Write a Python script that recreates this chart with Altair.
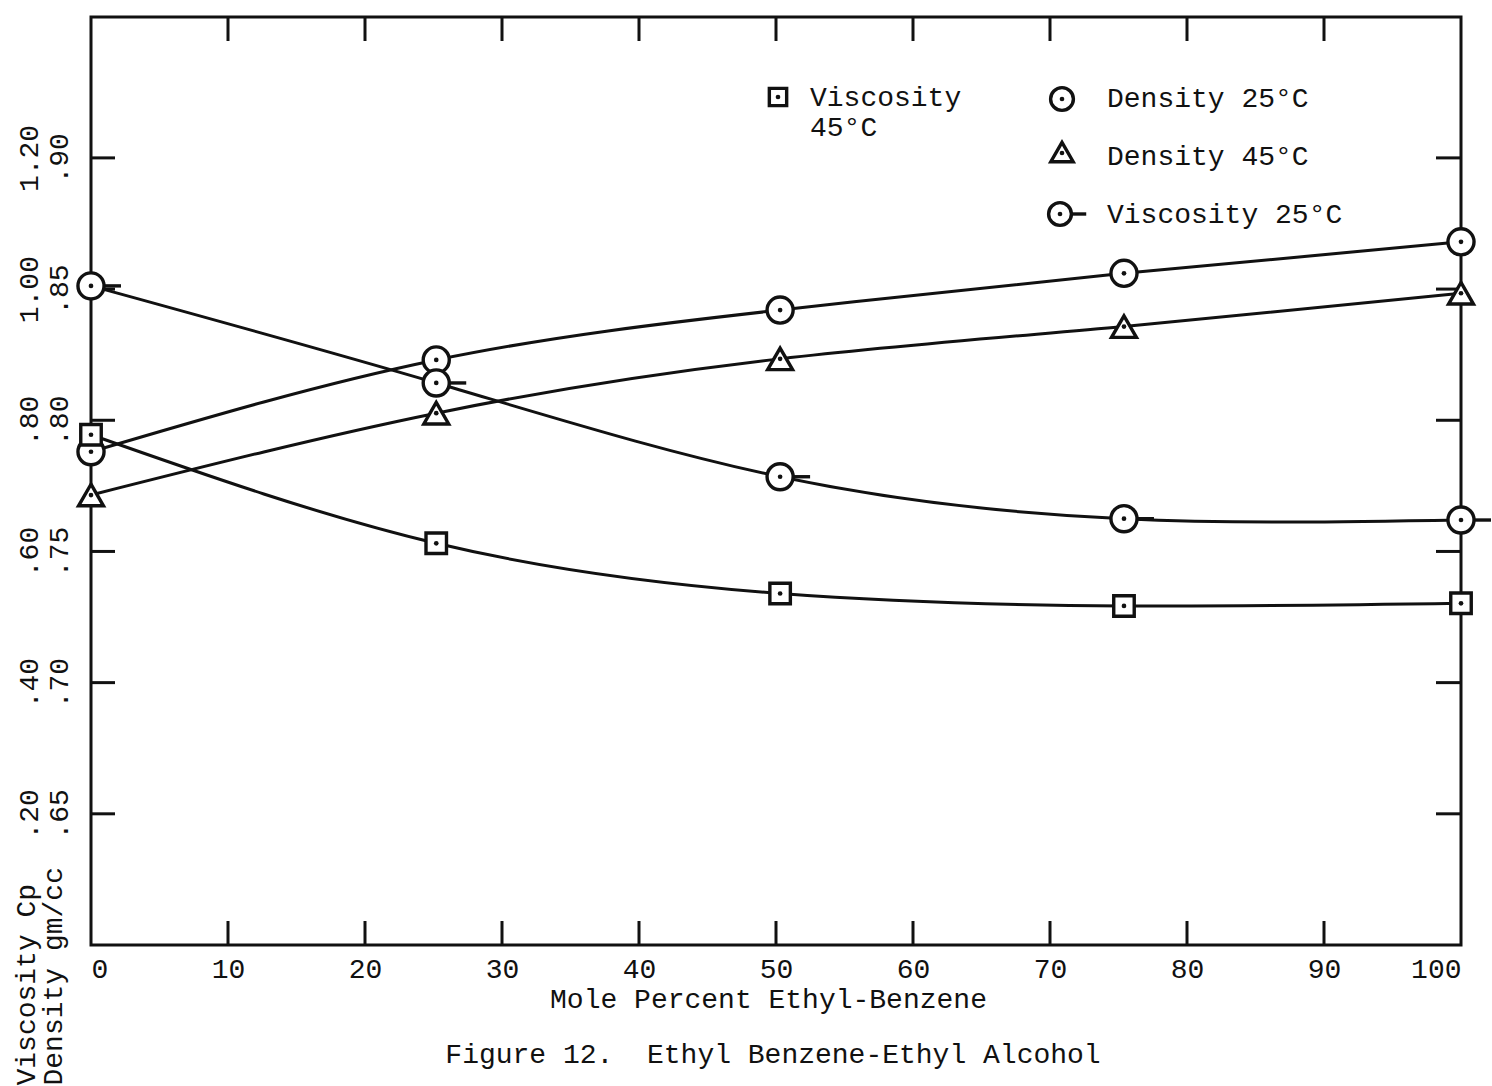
import altair as alt
import pandas as pd

# ---- data ----
mole_pct = [0, 25.2, 50.3, 75.4, 100]
density_25 = [0.788, 0.823, 0.842, 0.856, 0.868]
density_45 = [0.7715, 0.8027, 0.8234, 0.8357, 0.8484]
viscosity_25 = [1.005, 0.857, 0.714, 0.650, 0.648]
viscosity_45 = [0.778, 0.6125, 0.536, 0.517, 0.521]

x_ticks = [0, 10, 20, 30, 40, 50, 60, 70, 80, 90, 100]
x_inner_ticks = [10, 20, 30, 40, 50, 60, 70, 80, 90]
density_ticks = [0.65, 0.70, 0.75, 0.80, 0.85, 0.90]
viscosity_ticks = [0.20, 0.40, 0.60, 0.80, 1.00, 1.20]

FONT = "Liberation Mono"
FS = 28
W, H = 1370, 928
INK = "#111111"

df_d25 = pd.DataFrame({"x": mole_pct, "v": density_25})
df_d45 = pd.DataFrame({"x": mole_pct, "v": density_45})
df_v25 = pd.DataFrame({"x": mole_pct, "v": viscosity_25})
df_v45 = pd.DataFrame({"x": mole_pct, "v": viscosity_45})
df_xt = pd.DataFrame({"x": x_inner_ticks})
df_dt = pd.DataFrame({"v": density_ticks})
one = pd.DataFrame({"a": [0]})

x_enc = alt.X(
    "x:Q",
    scale=alt.Scale(domain=[0, 100], nice=False, zero=False),
    axis=alt.Axis(
        values=x_ticks, title="Mole Percent Ethyl-Benzene", grid=False, domain=False,
        ticks=False, tickSize=0, labelPadding=10, labelFlush=True,
        labelFont=FONT, labelFontSize=FS, labelColor=INK, labelBaseline="top",
        titleFont=FONT, titleFontSize=FS, titleFontWeight="normal", titleColor=INK,
        titleBaseline="alphabetic", titleY=62, titleX=677, titleAlign="center",
    ),
)

dens_scale = alt.Scale(domain=[0.60, 0.9537], nice=False, zero=False)
visc_scale = alt.Scale(domain=[0.0, 1.415], nice=False, zero=False)

dens_axis = alt.Axis(
    orient="left", values=density_ticks,
    labelExpr="replace(format(datum.value, '.2f'), '0.', '.')",
    grid=False, domain=False, ticks=False, tickSize=0, labelPadding=24,
    labelAngle=270, labelAlign="center", labelBaseline="alphabetic", labelFlush=False,
    labelFont=FONT, labelFontSize=FS, labelColor=INK,
    title="Density gm/cc", titleAngle=270, titleAlign="left", titleBaseline="alphabetic",
    titleX=-30, titleY=1068, titleFont=FONT, titleFontSize=FS, titleFontWeight="normal",
    titleColor=INK,
)
visc_axis = alt.Axis(
    orient="left", values=viscosity_ticks,
    labelExpr="datum.value >= 1 ? format(datum.value, '.2f') : replace(format(datum.value, '.2f'), '0.', '.')",
    grid=False, domain=False, ticks=False, tickSize=0, labelPadding=54,
    labelAngle=270, labelAlign="center", labelBaseline="alphabetic", labelFlush=False,
    labelFont=FONT, labelFontSize=FS, labelColor=INK,
    title="Viscosity Cp", titleAngle=270, titleAlign="left", titleBaseline="alphabetic",
    titleX=-57, titleY=1068, titleFont=FONT, titleFontSize=FS, titleFontWeight="normal",
    titleColor=INK,
)

def yd(field="v:Q"):
    return alt.Y(field, scale=dens_scale, axis=dens_axis)

def yv(field="v:Q"):
    return alt.Y(field, scale=visc_scale, axis=visc_axis)

LW = 3
MW = 3.4
CIRC = 680
DOT = 22
TAIL = "M 1 0 L 2.3 0"

def line(df, yfn):
    return alt.Chart(df).mark_line(interpolate="natural", color=INK, strokeWidth=LW).encode(x=x_enc, y=yfn())

def pts(df, yfn, shape, size):
    return alt.Chart(df).mark_point(shape=shape, size=size, filled=True, fill="white",
                                    stroke=INK, strokeWidth=MW, opacity=1).encode(x=x_enc, y=yfn())

def tail(df, yfn):
    return alt.Chart(df).mark_point(shape=TAIL, size=CIRC, filled=False, stroke=INK,
                                    strokeWidth=MW, opacity=1).encode(x=x_enc, y=yfn())

def dots(df, yfn):
    return alt.Chart(df).mark_point(shape="circle", size=DOT, filled=True, color=INK,
                                    opacity=1).encode(x=x_enc, y=yfn())

# inward ticks around the frame
top_ticks = alt.Chart(df_xt).mark_rule(color=INK, strokeWidth=3).encode(
    x=x_enc, y=alt.value(0), y2=alt.value(24))
bot_ticks = alt.Chart(df_xt).mark_rule(color=INK, strokeWidth=3).encode(
    x=x_enc, y=alt.value(H - 24), y2=alt.value(H))
left_ticks = alt.Chart(df_dt).mark_rule(color=INK, strokeWidth=3).encode(
    y=yd(), x=alt.value(0), x2=alt.value(24))
right_ticks = alt.Chart(df_dt).mark_rule(color=INK, strokeWidth=3).encode(
    y=yd(), x=alt.value(W - 25), x2=alt.value(W))

density_layer = alt.layer(
    top_ticks, bot_ticks, left_ticks, right_ticks,
    line(df_d25, yd), line(df_d45, yd),
    pts(df_d25, yd, "circle", CIRC), dots(df_d25, yd),
    pts(df_d45, yd, "triangle-up", 620), dots(df_d45, yd),
)

viscosity_layer = alt.layer(
    line(df_v25, yv), line(df_v45, yv),
    tail(df_v25, yv),
    pts(df_v25, yv, "circle", CIRC), dots(df_v25, yv),
    pts(df_v45, yv, "square", 420), dots(df_v45, yv),
)

# ---- in-plot key ----
def key_symbol(px, py, shape, size, filled=True):
    if filled:
        return alt.Chart(one).mark_point(shape=shape, size=size, filled=True, fill="white",
                                         stroke=INK, strokeWidth=MW, opacity=1).encode(
            x=alt.value(px), y=alt.value(py))
    return alt.Chart(one).mark_point(shape=shape, size=size, filled=False, stroke=INK,
                                     strokeWidth=MW, opacity=1).encode(
        x=alt.value(px), y=alt.value(py))

def key_dot(px, py):
    return alt.Chart(one).mark_point(shape="circle", size=DOT, filled=True, color=INK,
                                     opacity=1).encode(x=alt.value(px), y=alt.value(py))

def key_text(px, py, txt, align="left"):
    return alt.Chart(one).mark_text(align=align, baseline="middle", font=FONT, fontSize=FS,
                                    color=INK, text=txt).encode(x=alt.value(px), y=alt.value(py))

key = alt.layer(
    key_symbol(687, 80, "square", 300), key_dot(687, 80),
    key_text(719, 81, "Viscosity"), key_text(719, 111, "45°C"),
    key_symbol(971, 82, "circle", 520), key_dot(971, 82),
    key_text(1016, 82, "Density 25°C"),
    key_symbol(971, 135, "triangle-up", 500), key_dot(971, 136),
    key_text(1016, 140, "Density 45°C"),
    key_symbol(969, 197, TAIL, 520, filled=False),
    key_symbol(969, 197, "circle", 520), key_dot(969, 197),
    key_text(1016, 198, "Viscosity 25°C"),
    key_text(682, 1038, "Figure 12.\u00a0 Ethyl Benzene-Ethyl Alcohol", align="center"),
)

chart = alt.layer(density_layer, viscosity_layer, key).resolve_scale(
    y="independent"
).properties(
    width=W, height=H,
    autosize=alt.AutoSizeParams(type="none"),
    padding={"left": 91, "top": 17, "right": 31, "bottom": 141},
    background="white",
).configure_view(stroke=INK, strokeWidth=3)

chart.save("out.html", embed_options={"renderer": "svg", "actions": False})
